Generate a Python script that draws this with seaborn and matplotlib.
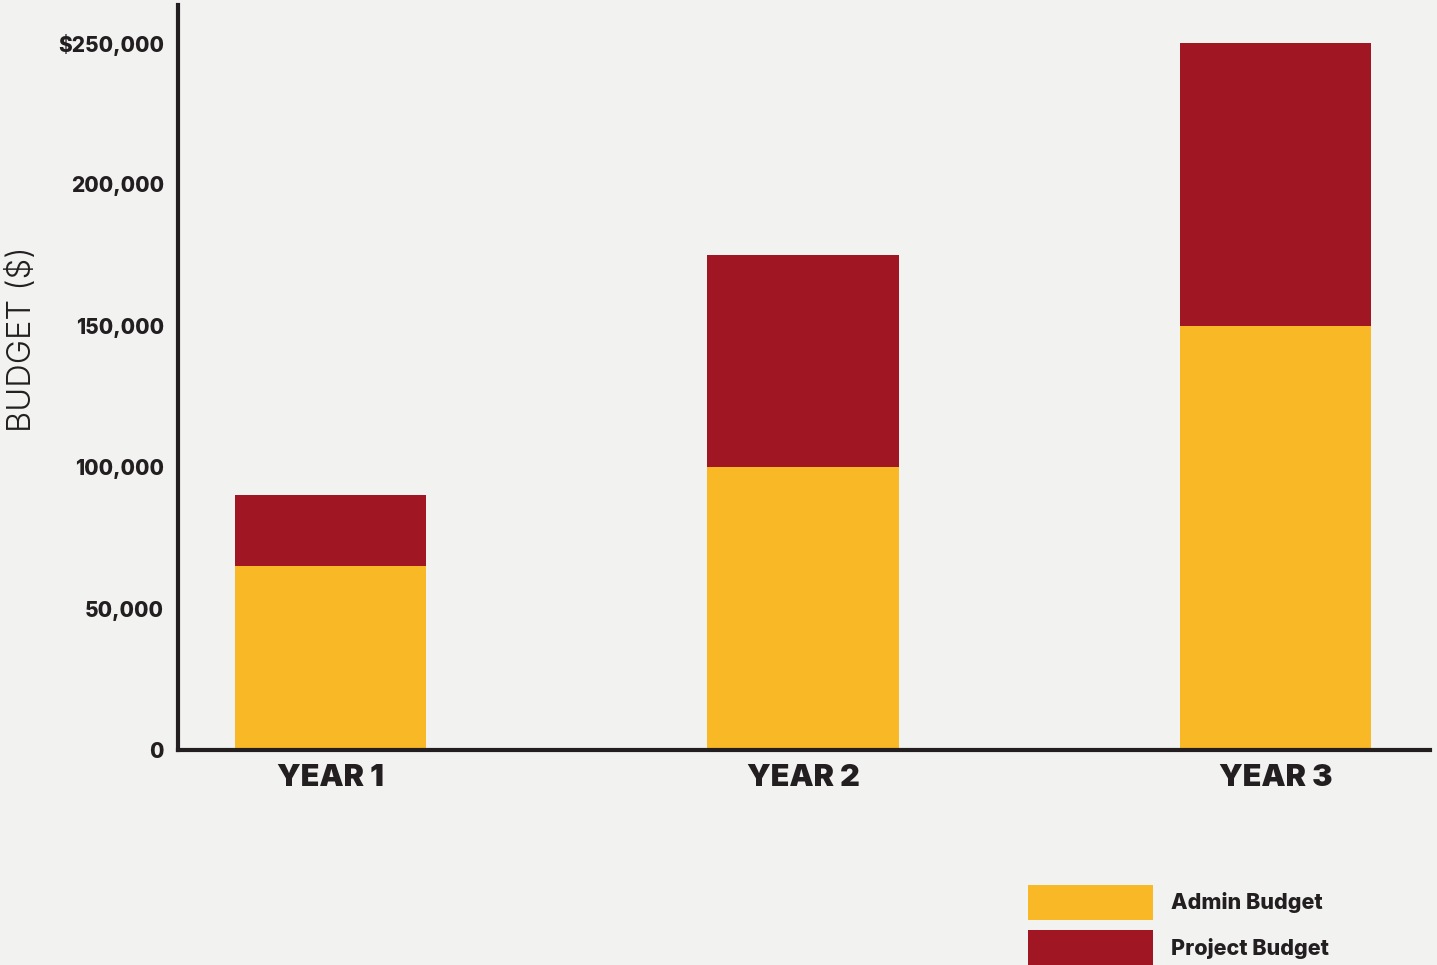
import matplotlib
matplotlib.use("Agg")
import matplotlib.pyplot as plt
import seaborn as sns
import pandas as pd
from matplotlib.patches import Patch

# ---- data ----
years = ["YEAR 1", "YEAR 2", "YEAR 3"]
admin_budget = [65000, 100000, 150000]
project_budget = [25000, 75000, 100000]
y_ticks = [0, 50000, 100000, 150000, 200000, 250000]
y_tick_labels = ["0", "50,000", "100,000", "150,000", "200,000", "$250,000"]
series_names = ["Admin Budget", "Project Budget"]

YELLOW = "#F9B926"
RED = "#A01623"
INK = "#231F20"
BG = "#F2F2F1"

sns.set_theme(style="white")
plt.rcParams["font.family"] = ["Inter", "DejaVu Sans"]

df = pd.DataFrame({
    "year": years,
    "admin": admin_budget,
    "total": [a + p for a, p in zip(admin_budget, project_budget)],
})

fig = plt.figure(figsize=(14.37, 9.65), dpi=100, facecolor=BG)
ax = fig.add_axes([178 / 1437, 1 - 750 / 965, (1430 - 178) / 1437, (750 - 5) / 965])
ax.set_facecolor(BG)

sns.barplot(data=df, x="year", y="total", color=RED, width=0.405,
            saturation=1, ax=ax, linewidth=0, edgecolor="none")
sns.barplot(data=df, x="year", y="admin", color=YELLOW, width=0.405,
            saturation=1, ax=ax, linewidth=0, edgecolor="none")

ax.set_xlim(-0.323, 2.327)
ax.set_ylim(0, 263400)
ax.set_yticks(y_ticks)
ax.set_yticklabels(y_tick_labels)
ax.tick_params(axis="both", length=0)
ax.tick_params(axis="y", pad=10, labelsize=15, colors=INK)
ax.tick_params(axis="x", pad=10, labelsize=22, colors=INK)
for t in ax.get_yticklabels():
    t.set_fontweight(800)
for t in ax.get_xticklabels():
    t.set_fontweight(900)

ax.set_xlabel("")
ax.set_ylabel("")
for s in ["top", "right"]:
    ax.spines[s].set_visible(False)
for s in ["left", "bottom"]:
    ax.spines[s].set_color(INK)
    ax.spines[s].set_linewidth(3)
ax.grid(False)

fig.text(23 / 1437, 1 - 339 / 965, "BUDGET ($)", rotation=90, ha="center",
         va="center", fontsize=23.5, fontweight=300, color=INK)

handles = [Patch(facecolor=YELLOW, edgecolor="none"),
           Patch(facecolor=RED, edgecolor="none")]
leg = fig.legend(handles, series_names, loc="upper left",
                 bbox_to_anchor=(1028 / 1437, 1 - 885 / 965),
                 frameon=False, borderpad=0, borderaxespad=0,
                 handlelength=5.8, handleheight=2.1, handletextpad=0.85,
                 labelspacing=0.5,
                 prop={"size": 15.5, "weight": 800})
for t in leg.get_texts():
    t.set_color(INK)

fig.savefig("out.png", dpi=100, facecolor=BG)
